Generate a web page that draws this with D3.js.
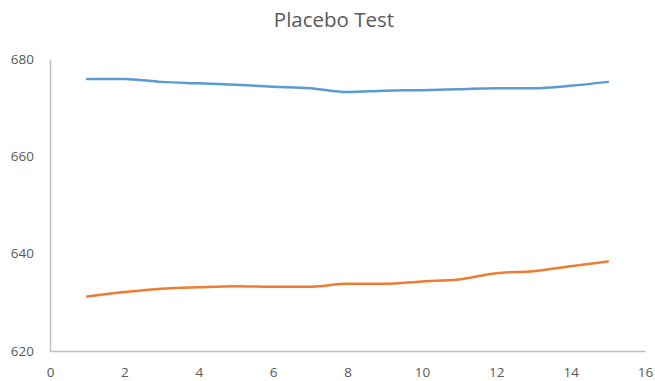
<!DOCTYPE html>
<html><head><meta charset="utf-8">
<script src="https://cdn.jsdelivr.net/npm/d3@7"></script>
<style>body{margin:0;background:#fff}svg{display:block}</style>
</head><body>
<script>
const xValues = [1,2,3,4,5,6,7,8,9,10,11,12,13,14,15];
const seriesBlue = [675.9,675.9,675.3,675.0,674.7,674.3,674.0,673.2,673.5,673.6,673.8,674.0,674.0,674.5,675.3];
const seriesOrange = [631.2,632.1,632.8,633.1,633.3,633.2,633.2,633.8,633.8,634.3,634.7,636.0,636.4,637.4,638.4];
const xTicks = [0,2,4,6,8,10,12,14,16];
const yTicks = [620,640,660,680];
const title = "Placebo Test";

const W=655,H=381;
const svg=d3.select("body").append("svg").attr("width",W).attr("height",H);
const x=d3.scaleLinear().domain([0,16]).range([50,645]);
const y=d3.scaleLinear().domain([620,680]).range([351,59]);
const font="'Open Sans', 'Liberation Sans', sans-serif";

svg.append("text").attr("x",334).attr("y",27).attr("text-anchor","middle")
  .attr("font-family",font).attr("font-size",20.5).attr("fill","#595959").text(title);

const xa=svg.append("g").attr("transform",`translate(0,${y(620)})`)
  .call(d3.axisBottom(x).tickValues(xTicks).tickSize(0).tickPadding(16));
const ya=svg.append("g").attr("transform",`translate(${x(0)},0)`)
  .call(d3.axisLeft(y).tickValues(yTicks).tickSize(0).tickPadding(16));
[xa,ya].forEach(a=>{
  a.select(".domain").attr("stroke","#bfbfbf").attr("stroke-width",1.5);
  a.selectAll("text").attr("font-family",font).attr("font-size",13.5).attr("fill","#595959");
});

const line=d3.line().x((d,i)=>x(xValues[i])).y(d=>y(d)).curve(d3.curveMonotoneX);
svg.append("path").datum(seriesBlue).attr("d",line).attr("fill","none")
  .attr("stroke","#5b9bd5").attr("stroke-width",2.5).attr("stroke-linecap","round");
svg.append("path").datum(seriesOrange).attr("d",line).attr("fill","none")
  .attr("stroke","#ed7d31").attr("stroke-width",2.5).attr("stroke-linecap","round");
</script>
</body></html>
